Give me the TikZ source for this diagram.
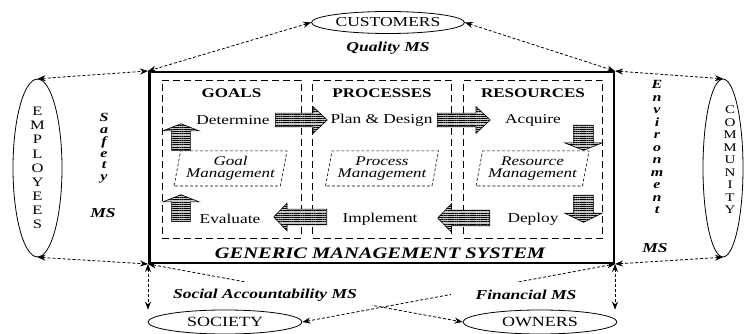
\documentclass[tikz,border=0pt]{standalone}
\usepackage{fontspec}
\setmainfont{Liberation Serif}
\usepackage{xcolor}
\usepackage{tikz}
\usetikzlibrary{shapes.geometric,shapes.arrows,patterns.meta,arrows.meta}

\tikzset{
  squash/.style={yscale=0.78},
  panel/.style={rectangle,draw,dash pattern=on 7pt off 4pt,line width=0.8pt,minimum width=139,minimum height=158},
  head/.style={squash,font=\fontsize{17}{20}\selectfont\bfseries},
  stepword/.style={squash,font=\fontsize{17.3}{20}\selectfont},
  mgmt/.style={trapezium,trapezium left angle=78,trapezium right angle=102,trapezium stretches body,draw,dash pattern=on 3pt off 2pt,line width=0.6pt,minimum width=113,minimum height=45,inner sep=0,squash,align=center,font=\fontsize{17}{16}\selectfont\itshape},
  bigarrow/.style={single arrow,draw,line width=0.6pt,inner sep=0,text width=0pt,text depth=0pt,fill=gray!45,postaction={pattern={Lines[angle=0,distance=2.2pt,line width=0.7pt]}}},
  party/.style={ellipse,draw,line width=0.8pt,inner sep=0,squash,font=\fontsize{17.5}{20}\selectfont},
  msname/.style={squash,font=\fontsize{17.5}{20}\selectfont\bfseries\itshape},
  msletter/.style={squash,anchor=base,inner sep=0,font=\fontsize{16}{16}\selectfont\bfseries\itshape},
  link/.style={{Stealth[length=8pt,width=6pt]}-{Stealth[length=8pt,width=6pt]},dash pattern=on 3pt off 2pt,line width=0.8pt}
}

\begin{document}
\begin{tikzpicture}[x=1pt,y=-1pt]
\useasboundingbox (0,0) rectangle (745,334);

\node (gms)[rectangle,draw,line width=2.5pt,minimum width=464.5,minimum height=190.5] at (381.5,167.5) {};

\node (P1)[panel] at (231.5,159) {};
\node (P2)[panel] at (382,159) {};
\node (P3)[panel] at (533,159) {};

\node (H1)[head] at (231.5,93) {GOALS};
\node (H2)[head] at (382,93) {PROCESSES};
\node (H3)[head] at (533,93) {RESOURCES};

\node (det)[stepword] at (233,120) {Determine};
\node (pla)[stepword] at (381.5,120) {Plan \& Design};
\node (acq)[stepword] at (533,120) {Acquire};
\node (eva)[stepword] at (230,219) {Evaluate};
\node (imp)[stepword] at (380,219) {Implement};
\node (dep)[stepword] at (533,219) {Deploy};

\node (GM)[mgmt] at (230.5,168.5) {Goal\\Management};
\node (PM)[mgmt] at (382,168.5) {Process\\Management};
\node (RM)[mgmt] at (532.5,168.5) {Resource\\Management};

\node (R1)[bigarrow,anchor=tail,text height=13pt,minimum height=52,single arrow head extend=6.5,single arrow tip angle=86] at (275,120) {};
\node (R2)[bigarrow,anchor=tail,text height=13pt,minimum height=53,single arrow head extend=6.5,single arrow tip angle=86] at (437,120) {};
\node (L1)[bigarrow,anchor=tail,rotate=180,text height=15pt,minimum height=53,single arrow head extend=6,single arrow tip angle=92] at (327,217) {};
\node (L2)[bigarrow,anchor=tail,rotate=180,text height=15pt,minimum height=52,single arrow head extend=6.5,single arrow tip angle=92] at (490,218) {};
\node (U1)[bigarrow,anchor=tail,rotate=90,text height=18pt,minimum height=27,single arrow head extend=9,single arrow tip angle=137] at (181,151) {};
\node (U2)[bigarrow,anchor=tail,rotate=90,text height=18pt,minimum height=27,single arrow head extend=9,single arrow tip angle=137] at (181,222) {};
\node (D1)[bigarrow,anchor=tail,rotate=-90,text height=19pt,minimum height=25,single arrow head extend=9,single arrow tip angle=137] at (583.5,125) {};
\node (D2)[bigarrow,anchor=tail,rotate=-90,text height=19pt,minimum height=27,single arrow head extend=9,single arrow tip angle=128] at (583.5,195) {};

\node (gname)[squash,font=\fontsize{20.5}{24}\selectfont\bfseries\itshape] at (380,253) {GENERIC MANAGEMENT SYSTEM};

\node (cust)[party,minimum width=153,minimum height=28.2] at (388,22.5) {CUSTOMERS};
\node (emp)[party,minimum width=49,minimum height=228,align=center,font=\fontsize{16.5}{18.1}\selectfont] at (37.5,168) {E\\M\\P\\L\\O\\Y\\E\\E\\S};
\node (comm)[party,minimum width=40,minimum height=228] at (723,168) {};
\node (commtxt)[squash,align=center,inner sep=0,font=\fontsize{15}{16}\selectfont] at (730,160) {C\\O\\M\\M\\U\\N\\I\\T\\Y};
\node (soc)[party,minimum width=154,minimum height=30.8,font=\fontsize{18}{20}\selectfont] at (225,322) {SOCIETY};
\node (own)[party,minimum width=154,minimum height=30.8,font=\fontsize{18}{20}\selectfont] at (540,322) {OWNERS};

\coordinate (socTop) at (gms.south west |- soc.north);
\coordinate (ownTop) at (gms.south east |- own.north);

\draw[link] (cust.west) -- (gms.north west);
\draw[link] (cust.east) -- (gms.north east);
\draw[link] (emp.north) -- (gms.north west);
\draw[link] (emp.south) -- (gms.south west);
\draw[link] (comm.north) -- (gms.north east);
\draw[link] (comm.south) -- (gms.south east);
\draw[link] (gms.south west) -- (socTop);
\draw[link] (gms.south east) -- (ownTop);
\draw[link] (gms.south west) -- (own.west);
\draw[link] (gms.south east) -- (soc.east);

\node (qms)[msname] at (388,48) {Quality MS};
\foreach \l [count=\i from 0] in {S,a,f,e,t,y}
  \node (saf\i)[msletter] at (104,122+11.7*\i) {\l};
\node (sms)[msname] at (103,213) {MS};
\foreach \l [count=\i from 0] in {E,n,v,i,r,o,n,m,e,n,t}
  \node (env\i)[msletter] at (657,89+12.5*\i) {\l};
\node (ems)[msname] at (655,248) {MS};
\node (sams)[msname,fill=white,inner xsep=15,minimum height=33] at (265,295) {Social Accountability MS};
\node (fms)[msname,fill=white,inner xsep=25,minimum height=33] at (526,295) {Financial MS};
\end{tikzpicture}
\end{document}
